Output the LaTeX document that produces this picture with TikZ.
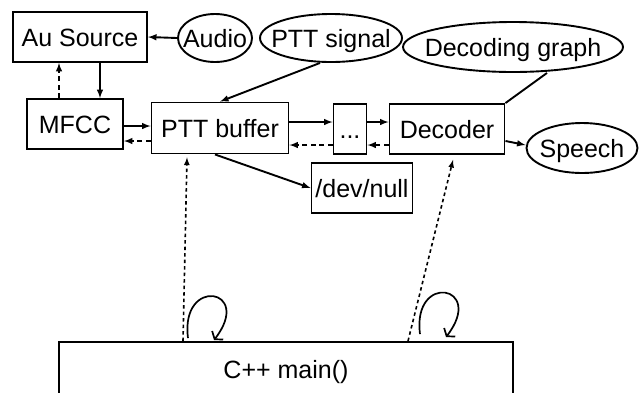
\documentclass[tikz,border=0pt]{standalone}
\usepackage{fontspec}
\setmainfont{Liberation Sans}
\usetikzlibrary{shapes.geometric,arrows.meta}

\begin{document}
\begin{tikzpicture}[x=1pt, y=-1pt, >=latex, line width=1.9pt,
    font=\fontsize{25}{30}\selectfont,
    box/.style={draw, rectangle, inner sep=0pt, text height=18pt, text depth=0pt},
    blob/.style={draw, ellipse, inner sep=0pt, text height=18pt, text depth=0pt},
    back/.style={->, dash pattern=on 5pt off 3.5pt},
    ctrl/.style={->, line width=1.6pt, dash pattern=on 3.5pt off 3pt},
    loop/.style={-{Straight Barb[length=5pt,width=14pt]}, line width=1.7pt}]
    \useasboundingbox (0,0) rectangle (644,392);
    \node[box, minimum width=134pt, minimum height=50pt] (ausrc) at (80,37) {Au Source};
    \node[blob, minimum width=74pt, minimum height=48pt] (audio) at (215,38) {\makebox[0pt]{Audio}};
    \node[blob, minimum width=142pt, minimum height=48pt] (pttsig) at (331,38) {\makebox[0pt]{PTT signal}};
    \node[blob, minimum width=220pt, minimum height=50pt] (decgraph) at (513,47) {\makebox[0pt]{Decoding graph}};
    \node[box, minimum width=96pt, minimum height=50pt] (mfcc) at (75,124) {MFCC};
    \node[box, minimum width=137pt, minimum height=51pt] (pttbuf) at (220,128) {PTT buffer};
    \node[box, minimum width=33pt, minimum height=50pt] (dots) at (350,129) {...};
    \node[box, minimum width=115pt, minimum height=50pt] (decoder) at (447,129) {Decoder};
    \node[blob, minimum width=111pt, minimum height=50pt] (speech) at (582,148) {\makebox[0pt]{Speech}};
    \node[box, minimum width=101pt, minimum height=50pt] (devnull) at (362,188) {/dev/null};
    \node[box, minimum width=454pt, minimum height=54pt] (cmain) at (286,369) {C++ main()};
    % data flow
    \draw[->] (audio.west) -- (ausrc.east);
    \draw[->] ([xshift=20pt]ausrc.south) -- ([xshift=25pt]mfcc.north);
    \draw[back] ([xshift=-16pt]mfcc.north) -- ([xshift=-21pt]ausrc.south);
    \draw[->] ([yshift=-2pt]mfcc.east) -- ([yshift=2pt]pttbuf.west);
    \draw[back] ([yshift=-13pt]pttbuf.west) -- ([yshift=-17pt]mfcc.east);
    \draw[->] ([yshift=6pt]pttbuf.east) -- ([yshift=7pt]dots.west);
    \draw[->] ([yshift=7pt]dots.east) -- ([yshift=7pt]decoder.west);
    \draw[back] ([yshift=-16pt]decoder.west) -- ([yshift=-16pt]dots.east);
    \draw[back] ([yshift=-16pt]dots.west) -- ([yshift=-17pt]pttbuf.east);
    \draw[->] ([xshift=-11pt]pttsig.south) -- (pttbuf.north);
    \draw ([xshift=34pt]decgraph.south) -- (decoder.north east);
    \draw[->] ([yshift=-12pt]decoder.east) -- ([yshift=3pt]speech.west);
    \draw[->] ([xshift=-5pt]pttbuf.south) -- (devnull.west);
    % control from main
    \draw[ctrl] ([xshift=-103pt]cmain.north) -- ([xshift=-33pt,yshift=-3pt]pttbuf.south);
    \draw[ctrl] ([xshift=122pt]cmain.north) -- ([xshift=6pt,yshift=-5pt]decoder.south);
    \draw[loop] ([shift={(-98,-3)}]cmain.north) .. controls +(-8,-62) and +(40,-52) .. ([shift={(-72,-1)}]cmain.north);
    \draw[loop] ([shift={(134,-7)}]cmain.north) .. controls +(-8,-62) and +(40,-52) .. ([shift={(160,-4)}]cmain.north);
\end{tikzpicture}
\end{document}
